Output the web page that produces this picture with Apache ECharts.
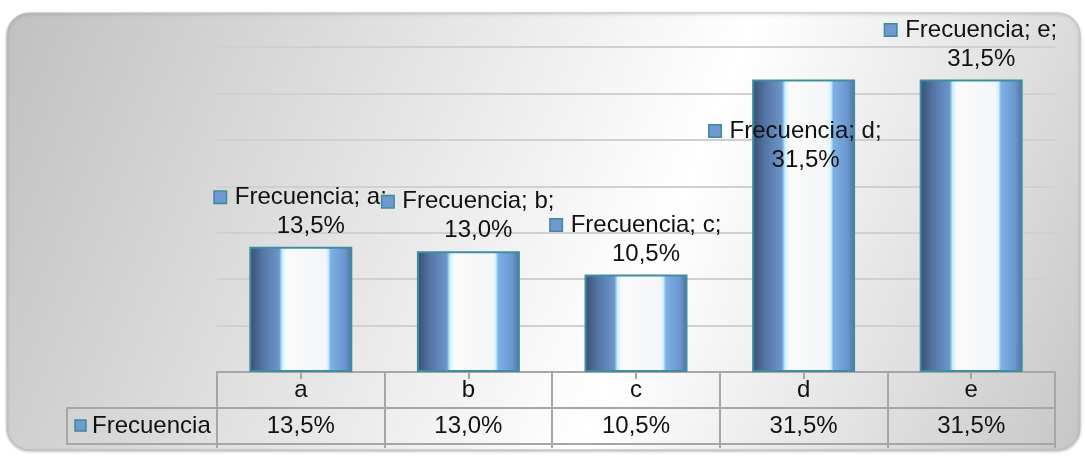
<!DOCTYPE html>
<html>
<head>
<meta charset="utf-8">
<script src="https://cdn.jsdelivr.net/npm/echarts@6/dist/echarts.min.js"></script>
<style>
html,body{margin:0;padding:0;background:#ffffff;}
#chart{width:1085px;height:456px;}
</style>
</head>
<body>
<div id="chart"></div>
<script>
const categories = ['a', 'b', 'c', 'd', 'e'];
const seriesName = 'Frecuencia';
const values = [13.5, 13.0, 10.5, 31.5, 31.5];
const yMax = 35;
const yInterval = 5;

const FONT = '"Liberation Sans", Arial, sans-serif';
const FS = 24;
const fmt = v => v.toFixed(1).replace('.', ',') + '%';
const labelShift = { d: [-8, 101] };

const barFill = {
  type: 'linear', x: 0, y: 0, x2: 1, y2: 0,
  colorStops: [
    { offset: 0, color: '#374d70' },
    { offset: 0.12, color: '#5273a2' },
    { offset: 0.29, color: '#6d96cb' },
    { offset: 0.32, color: '#c6f3ff' },
    { offset: 0.36, color: '#fbfbfb' },
    { offset: 0.74, color: '#f3f5f7' },
    { offset: 0.765, color: '#cdf1ff' },
    { offset: 0.79, color: '#7eb0e6' },
    { offset: 0.93, color: '#6a95cd' },
    { offset: 1, color: '#4e6f9c' }
  ]
};

const keyStyle = { width: 11, height: 11, backgroundColor: '#7199d1', borderColor: '#3c8a9c', borderWidth: 1.5 };
const txt = { fontSize: FS, fontFamily: FONT, color: '#111111', lineHeight: 29 };

const barData = values.map((v, i) => {
  const sh = labelShift[categories[i]];
  return sh ? { value: v, label: { offset: sh } } : v;
});

const chart = echarts.init(document.getElementById('chart'), null, { renderer: 'canvas' });
chart.setOption({
  animation: false,
  graphic: [
    {
      type: 'rect', z: -10, silent: true,
      shape: { x: 7, y: 13, width: 1073, height: 437, r: 22 },
      style: {
        fill: {
          type: 'linear', x: 0, y: 0, x2: 1, y2: 1,
          colorStops: [
            { offset: 0, color: '#c0c0c0' },
            { offset: 0.6, color: '#ffffff' },
            { offset: 0.8, color: '#e4e4e4' },
            { offset: 1, color: '#c6c6c6' }
          ]
        },
        stroke: '#bdbdbd', lineWidth: 1,
        shadowBlur: 3, shadowColor: 'rgba(0,0,0,0.25)', shadowOffsetY: 1
      }
    },
    {
      type: 'rect', z: 5, silent: true,
      shape: { x: 67, y: 408, width: 150, height: 36 },
      style: { fill: 'transparent', stroke: '#a6a6a6', lineWidth: 2 }
    },
    {
      type: 'rect', z: 6, silent: true,
      shape: { x: 75, y: 420, width: 11, height: 11 },
      style: { fill: '#7199d1', stroke: '#3c8a9c', lineWidth: 1.5 }
    },
    {
      type: 'text', z: 6, silent: true,
      x: 92, y: 426,
      style: { text: seriesName, font: FS + 'px ' + FONT, fill: '#111111', textVerticalAlign: 'middle', textAlign: 'left' }
    }
  ],
  grid: [
    { left: 217, right: 30, top: 47, bottom: 84 },
    { left: 217, right: 30, top: 372, bottom: 12 }
  ],
  xAxis: [
    {
      type: 'category', gridIndex: 0, data: categories,
      axisLine: { show: true, lineStyle: { color: '#a6a6a6', width: 2 } },
      axisTick: { show: true, alignWithLabel: true, length: 7, lineStyle: { color: '#a6a6a6', width: 2 } },
      axisLabel: {
        interval: 0, margin: 0,
        formatter: (val, idx) => `{c|${val}}\n{v|${fmt(values[idx])}}`,
        rich: {
          c: { fontSize: FS, fontFamily: FONT, color: '#111111', lineHeight: 36 },
          v: { fontSize: FS, fontFamily: FONT, color: '#111111', lineHeight: 36 }
        }
      },
      splitLine: { show: false }
    },
    {
      type: 'category', gridIndex: 1, data: categories,
      axisLine: { show: true, lineStyle: { color: '#a6a6a6', width: 2 } },
      axisTick: { show: true, length: 4, lineStyle: { color: '#a6a6a6', width: 2 } },
      axisLabel: { show: false },
      splitLine: { show: true, lineStyle: { color: '#a6a6a6', width: 2 } }
    }
  ],
  yAxis: [
    {
      type: 'value', gridIndex: 0, min: 0, max: yMax, interval: yInterval,
      axisLabel: { show: false },
      axisLine: { show: false }, axisTick: { show: false },
      splitLine: { show: true, lineStyle: { color: '#d0d0d0', width: 2 } }
    },
    {
      type: 'value', gridIndex: 1, min: 0, max: 2, interval: 1,
      axisLabel: { show: false },
      axisLine: { show: true, lineStyle: { color: '#a6a6a6', width: 2 } },
      axisTick: { show: false },
      splitLine: { show: true, lineStyle: { color: '#a6a6a6', width: 2 } }
    }
  ],
  series: [
    {
      name: seriesName, type: 'bar', xAxisIndex: 0, yAxisIndex: 0,
      data: barData,
      barWidth: 103,
      itemStyle: { color: barFill, borderColor: '#3f8ea0', borderWidth: 2 },
      label: {
        show: true, position: 'top', distance: 6,
        formatter: p => `{k|}{g|}{t|${seriesName}; ${p.name};}\n{s|}{t|${fmt(p.value)}}`,
        rich: { k: keyStyle, g: { width: 9 }, s: { width: 20 }, t: txt }
      }
    }
  ]
});
</script>
</body>
</html>
